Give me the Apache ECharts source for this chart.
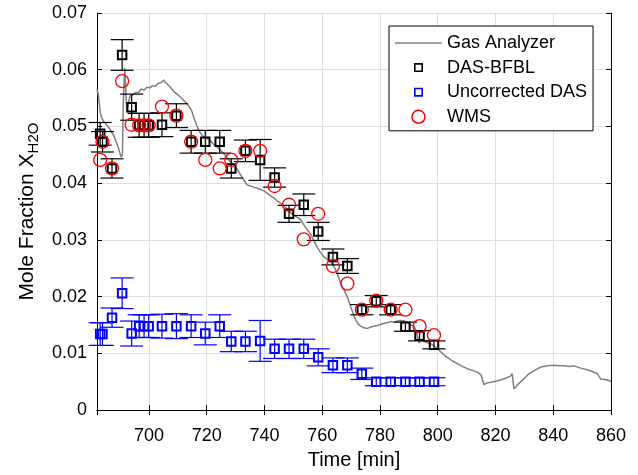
<!DOCTYPE html>
<html>
<head>
<meta charset="utf-8">
<title>Mole fraction of H2O</title>
<script src="https://cdn.jsdelivr.net/npm/echarts@6/dist/echarts.min.js"></script>
<style>
    html, body { margin: 0; padding: 0; background: #fff; }
    #main { width: 638px; height: 475px; }
</style>
</head>
<body>
<div id="main"></div>
<script>
// sample times shared by the three measured series [min]
var sampleTime = [683.1, 683.9, 687.2, 690.7, 694.0, 696.6, 698.3, 699.9, 704.5, 709.5,
    714.6, 719.5, 724.5, 728.5, 733.4, 738.5, 743.5, 748.5, 753.6, 758.6,
    763.7, 768.7, 773.7, 778.7, 783.7, 788.8, 793.7, 798.7];

// DAS-BFBL
var dasValue = [0.0487, 0.0473, 0.0426, 0.0626, 0.0534, 0.0502, 0.0502, 0.0502, 0.0503, 0.0519,
    0.0473, 0.0473, 0.0473, 0.0426, 0.0457, 0.0441, 0.0410, 0.0346, 0.0362, 0.0315,
    0.0270, 0.0254, 0.0177, 0.0192, 0.0177, 0.0147, 0.0131, 0.0115];
var dasError = [0.0020, 0.0018, 0.0017, 0.0027, 0.0023, 0.0021, 0.0021, 0.0021, 0.0021, 0.0021,
    0.0020, 0.0020, 0.0020, 0.0017, 0.0019, 0.0036, 0.0017, 0.0015, 0.0019, 0.0016,
    0.0014, 0.0013, 0.0009, 0.0010, 0.0009, 0.0008, 0.0009, 0.0007];

// Uncorrected DAS
var rawValue = [0.0134, 0.0134, 0.0163, 0.0206, 0.0135, 0.0148, 0.0148, 0.0148, 0.0148, 0.0148,
    0.0148, 0.0135, 0.0148, 0.0121, 0.0121, 0.0122, 0.0108, 0.0108, 0.0108, 0.0093,
    0.0079, 0.0079, 0.0064, 0.0050, 0.0050, 0.0050, 0.0050, 0.0050];
var rawError = [0.0020, 0.0020, 0.0017, 0.0027, 0.0022, 0.0020, 0.0020, 0.0020, 0.0021, 0.0022,
    0.0020, 0.0020, 0.0020, 0.0018, 0.0018, 0.0036, 0.0017, 0.0017, 0.0017, 0.0015,
    0.0013, 0.0013, 0.0010, 0.0007, 0.0007, 0.0007, 0.0007, 0.0007];

// WMS
var wmsValue = [0.0441, 0.0473, 0.0426, 0.0580, 0.0503, 0.0502, 0.0502, 0.0502, 0.0535, 0.0519,
    0.0473, 0.0441, 0.0426, 0.0441, 0.0457, 0.0457, 0.0395, 0.0362, 0.0301, 0.0346,
    0.0254, 0.0223, 0.0177, 0.0193, 0.0177, 0.0177, 0.0148, 0.0132];

// Gas Analyzer trace
var gasTime = [682, 682.5, 683.1, 683.7, 684.5, 685.5, 686.5, 687.8, 688.7, 689.5,
    690.3, 690.8, 691.1, 691.6, 692.0, 692.3, 693.0, 693.5, 694.5, 695.5,
    696.4, 697.3, 698.3, 699.3, 700.3, 701.2, 702.2, 703.2, 704.2, 705.1,
    705.6, 706.3, 707.4, 708.5, 709.5, 710.9, 712.0, 713.2, 714.2, 714.9,
    715.8, 716.7, 717.6, 718.5, 719.5, 720.5, 721.5, 722.5, 723.6, 724.8,
    726.0, 727.2, 728.2, 729.4, 730.6, 731.7, 732.8, 734.0, 735.1, 736.3,
    737.5, 738.6, 740.0, 741.0, 742.0, 743.2, 744.4, 745.5, 746.7, 748.0,
    749.0, 750.0, 751.2, 752.5, 753.5, 754.5, 755.3, 756.0, 757.0, 758.3,
    759.4, 760.6, 761.7, 762.9, 764.0, 765.2, 766.3, 767.2, 768.0, 768.9,
    769.8, 770.6, 771.5, 772.4, 773.3, 774.4, 775.6, 776.7, 777.9, 779.0,
    780.2, 781.4, 782.5, 783.7, 784.8, 786.0, 787.1, 788.3, 789.5, 790.6,
    791.7, 792.5, 793.0, 793.6, 794.2, 795.3, 796.4, 797.5, 798.7, 800.4,
    801.8, 803.3, 805.0, 806.8, 808.5, 810.2, 812.0, 813.7, 815.0, 815.6,
    816.0, 817.2, 818.3, 820.0, 821.8, 823.5, 825.2, 825.8, 826.2, 826.5,
    827.5, 828.7, 830.0, 831.6, 833.5, 835.7, 838.0, 840.3, 842.0, 843.7,
    845.5, 847.2, 849.5, 851.8, 853.5, 855.3, 856.4, 858.0, 860.0];
var gasValue = [0.0566, 0.0555, 0.0525, 0.0514, 0.0508, 0.0502, 0.0495, 0.0484, 0.0472, 0.0461,
    0.0446, 0.0450, 0.0540, 0.0603, 0.0560, 0.0525, 0.0545, 0.0554, 0.0556, 0.0560,
    0.0560, 0.0566, 0.0564, 0.0569, 0.0568, 0.0572, 0.0571, 0.0576, 0.0577, 0.0582,
    0.0578, 0.0575, 0.0569, 0.0562, 0.0558, 0.0552, 0.0546, 0.0540, 0.0533, 0.0526,
    0.0512, 0.0500, 0.0490, 0.0484, 0.0480, 0.0478, 0.0474, 0.0468, 0.0464, 0.0458,
    0.0452, 0.0443, 0.0438, 0.0432, 0.0424, 0.0415, 0.0406, 0.0397, 0.0395, 0.0393,
    0.0391, 0.0389, 0.0386, 0.0382, 0.0378, 0.0374, 0.0369, 0.0365, 0.0360, 0.0354,
    0.0348, 0.0344, 0.0340, 0.0336, 0.0328, 0.0320, 0.0315, 0.0310, 0.0300, 0.0287,
    0.0278, 0.0270, 0.0266, 0.0262, 0.0254, 0.0241, 0.0225, 0.0215, 0.0207, 0.0197,
    0.0183, 0.0172, 0.0160, 0.0152, 0.0148, 0.0145, 0.0144, 0.0146, 0.0148, 0.0149,
    0.0151, 0.0153, 0.0154, 0.0156, 0.0155, 0.0157, 0.0158, 0.0157, 0.0155, 0.0150,
    0.0149, 0.0140, 0.0130, 0.0118, 0.0125, 0.0121, 0.0119, 0.0117, 0.0113, 0.0106,
    0.0099, 0.0093, 0.0087, 0.0082, 0.0077, 0.0073, 0.0070, 0.0067, 0.0062, 0.0060,
    0.0045, 0.0048, 0.0049, 0.0051, 0.0053, 0.0056, 0.0060, 0.0064, 0.0045, 0.0037,
    0.0044, 0.0050, 0.0056, 0.0064, 0.0070, 0.0076, 0.0078, 0.0079, 0.0078, 0.0078,
    0.0077, 0.0078, 0.0074, 0.0071, 0.0068, 0.0064, 0.0055, 0.0054, 0.0051];

var FONT = '"Liberation Sans", Arial, Helvetica, sans-serif';

var pairUp = function(xs, ys) {
    var res = [];
    for (var i = 0; i < xs.length; i++) {
        res.push([xs[i], ys[i]]);
    }
    return res;
};

var errorRange = function(xs, ys, es) {
    var res = [];
    for (var i = 0; i < xs.length; i++) {
        res.push([xs[i], ys[i] - es[i], ys[i] + es[i]]);
    }
    return res;
};

// vertical bar with a cap at each end
var errorBar = function(color) {
    return function(params, api) {
        var x = api.value(0);
        var lo = api.coord([x, api.value(1)]);
        var hi = api.coord([x, api.value(2)]);
        var w = 11.5;
        var style = { stroke: color, lineWidth: 1.2, fill: null };
        return {
            type: 'group',
            children: [
                { type: 'line', shape: { x1: lo[0], y1: lo[1], x2: hi[0], y2: hi[1] }, style: style },
                { type: 'line', shape: { x1: lo[0] - w, y1: lo[1], x2: lo[0] + w, y2: lo[1] }, style: style },
                { type: 'line', shape: { x1: hi[0] - w, y1: hi[1], x2: hi[0] + w, y2: hi[1] }, style: style }
            ]
        };
    };
};

var chart = echarts.init(document.getElementById('main'), null, { renderer: 'canvas' });

var boxAxis = {
    axisLine: { show: true, lineStyle: { color: '#000', width: 1 } },
    axisTick: { show: true, inside: true, length: 5, lineStyle: { color: '#000' } },
    axisLabel: { show: false },
    splitLine: { show: false }
};

var option = {
    backgroundColor: '#fff',
    animation: false,
    textStyle: { fontFamily: FONT },
    grid: { left: 97, right: 27, top: 13, bottom: 60 },
    legend: {
        orient: 'vertical',
        left: 389,
        top: 26,
        padding: [7, 6, 4, 6],
        itemWidth: 47,
        itemHeight: 13,
        itemGap: 4.6,
        backgroundColor: '#fff',
        borderColor: '#000',
        borderWidth: 1,
        borderRadius: 0,
        selectedMode: false,
        textStyle: { fontFamily: FONT, fontSize: 18, color: '#000', lineHeight: 20 },
        data: [
            { name: 'Gas Analyzer', icon: 'path://M0,0L47,0L47,1.5L0,1.5Z', itemStyle: { color: '#7f7f7f', borderWidth: 0 } },
            { name: 'DAS-BFBL', icon: 'path://M0,0M3,3L11,3L11,11L3,11ZM14,14', itemStyle: { borderWidth: 1.6 } },
            { name: 'Uncorrected DAS', icon: 'path://M0,0M3,3L11,3L11,11L3,11ZM14,14', itemStyle: { borderWidth: 1.6 } },
            { name: 'WMS', itemStyle: { borderWidth: 1.5 } }
        ]
    },
    xAxis: [{
        type: 'value',
        min: 682,
        max: 860,
        splitNumber: 9,
        name: 'Time [min]',
        nameLocation: 'middle',
        nameGap: 37,
        nameTextStyle: { fontFamily: FONT, fontSize: 20, color: '#000' },
        axisLine: { show: true, onZero: false, lineStyle: { color: '#000', width: 1 } },
        axisTick: { show: true, inside: true, length: 5, lineStyle: { color: '#000' } },
        axisLabel: {
            margin: 17,
            fontFamily: FONT,
            fontSize: 18,
            color: '#000',
            formatter: function(v) {
                return v % 20 === 0 ? String(v) : '';
            }
        },
        splitLine: { show: true, lineStyle: { color: '#dedede', width: 1 } }
    }, Object.assign({
        type: 'value',
        position: 'top',
        min: 682,
        max: 860,
        splitNumber: 9
    }, boxAxis)],
    yAxis: [{
        type: 'value',
        min: 0,
        max: 0.07,
        interval: 0.01,
        name: 'Mole Fraction X{sub|H2O}',
        nameLocation: 'middle',
        nameGap: 50,
        nameTextStyle: {
            fontFamily: FONT,
            fontSize: 21,
            color: '#000',
            rich: {
                sub: { fontFamily: FONT, fontSize: 15, color: '#000', padding: [12, 0, 0, 0] }
            }
        },
        axisLine: { show: true, lineStyle: { color: '#000', width: 1 } },
        axisTick: { show: true, inside: true, length: 5, lineStyle: { color: '#000' } },
        axisLabel: {
            margin: 10,
            fontFamily: FONT,
            fontSize: 18,
            color: '#000',
            formatter: function(v) {
                return v === 0 ? '0' : v.toFixed(2);
            }
        },
        splitLine: { show: true, lineStyle: { color: '#dedede', width: 1 } }
    }, Object.assign({
        type: 'value',
        position: 'right',
        min: 0,
        max: 0.07,
        interval: 0.01
    }, boxAxis)],
    series: [{
        name: 'Gas Analyzer',
        type: 'line',
        showSymbol: false,
        symbol: 'none',
        z: 1,
        lineStyle: { color: '#7f7f7f', width: 1.5 },
        itemStyle: { color: '#7f7f7f' },
        data: pairUp(gasTime, gasValue)
    }, {
        name: 'das-err',
        type: 'custom',
        renderItem: errorBar('#000'),
        encode: { x: 0, y: [1, 2] },
        z: 2,
        data: errorRange(sampleTime, dasValue, dasError)
    }, {
        name: 'DAS-BFBL',
        type: 'scatter',
        symbol: 'rect',
        symbolSize: 8.5,
        z: 3,
        itemStyle: { color: 'rgba(0,0,0,0)', borderColor: '#000', borderWidth: 2, opacity: 1 },
        data: pairUp(sampleTime, dasValue)
    }, {
        name: 'raw-err',
        type: 'custom',
        renderItem: errorBar('#0000ff'),
        encode: { x: 0, y: [1, 2] },
        z: 2,
        data: errorRange(sampleTime, rawValue, rawError)
    }, {
        name: 'Uncorrected DAS',
        type: 'scatter',
        symbol: 'rect',
        symbolSize: 8.5,
        z: 3,
        itemStyle: { color: 'rgba(0,0,0,0)', borderColor: '#0000ff', borderWidth: 2, opacity: 1 },
        data: pairUp(sampleTime, rawValue)
    }, {
        name: 'WMS',
        type: 'scatter',
        symbol: 'circle',
        symbolSize: 13,
        z: 4,
        itemStyle: { color: 'rgba(0,0,0,0)', borderColor: '#ff0000', borderWidth: 1.3, opacity: 1 },
        data: pairUp(sampleTime, wmsValue)
    }]
};

chart.setOption(option);
</script>
</body>
</html>
